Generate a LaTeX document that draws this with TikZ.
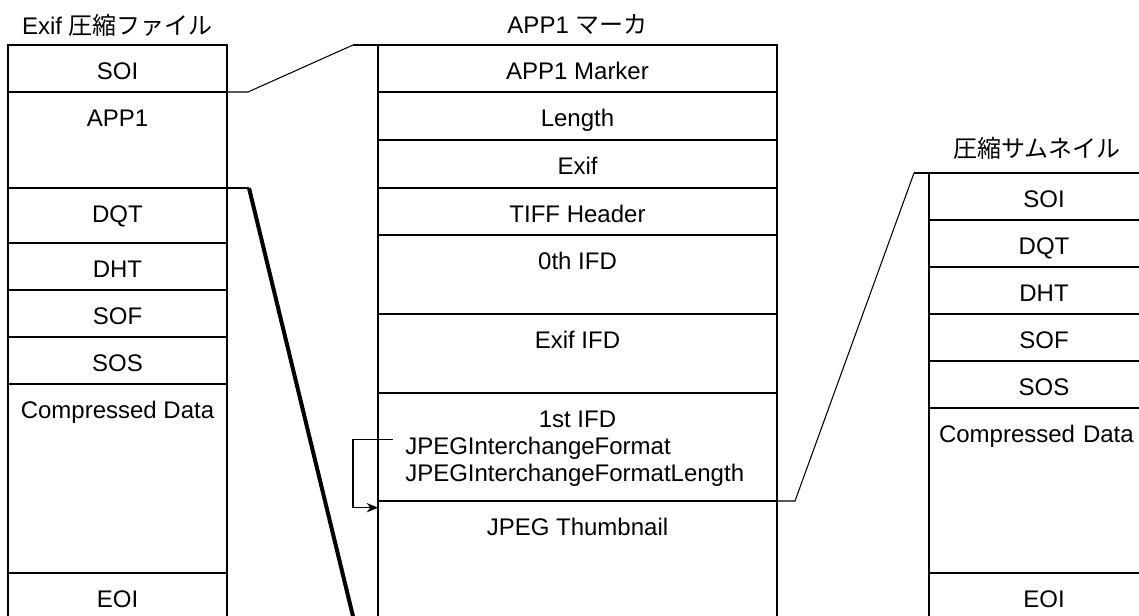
\documentclass[tikz,border=0pt]{standalone}
\usepackage{fontspec}
\setmainfont{Liberation Sans}
\newfontfamily\jpfont{Noto Sans CJK JP}
\usetikzlibrary{arrows.meta,positioning}
\tikzset{
  cell depth/.code={\pgfmathsetlengthmacro\celldp{(#1)*0.75pt-25.8pt}\pgfkeysalso{text depth/.expanded=\celldp}},
  cell/.style={draw,line width=1.1pt,inner sep=0pt,outer sep=0pt,anchor=north,text height=25.8pt,cell depth=#1},
  lcell/.style={cell=#1,minimum width=164.25pt},
  mcell/.style={cell=#1,minimum width=299.25pt},
  rcell/.style={cell=#1,minimum width=172.5pt},
  colhead/.style={anchor=base,inner sep=0pt},
  tagtext/.style={anchor=base west,inner xsep=9pt,inner ysep=0pt},
  thinlink/.style={line width=0.8pt},
  boldlink/.style={line width=3pt},
  stub/.style={line width=1.7pt},
  ptrarrow/.style={-{Stealth[length=8.5pt,width=7pt]},line width=0.8pt}
}
\begin{document}
\begin{tikzpicture}[x=0.75pt,y=-0.75pt,font=\fontsize{18pt}{21.6pt}\selectfont]
\useasboundingbox (0,0) rectangle (1139,615);
\clip (0,0) rectangle (1139,615);
% Exif file
\node[colhead] (lhead) at (117.5,34) {Exif {\jpfont 圧縮ファイル}};
\node[lcell=47] (lsoi) at (117.5,45) {SOI};
\node[lcell=96,below=0pt of lsoi] (lapp) {APP1};
\node[lcell=55,below=0pt of lapp] (ldqt) {DQT};
\node[lcell=47,below=0pt of ldqt] (ldht) {DHT};
\node[lcell=47,below=0pt of ldht] (lsof) {SOF};
\node[lcell=47,below=0pt of lsof] (lsos) {SOS};
\node[lcell=189,below=0pt of lsos] (ldata) {Compressed Data};
\node[lcell=60,below=0pt of ldata] (leoi) {EOI};
% APP1 marker
\node[colhead] (mhead) at (577.5,33) {APP1 {\jpfont マーカ}};
\node[mcell=47] (mmark) at (577.5,45) {APP1 Marker};
\node[mcell=48,below=0pt of mmark] (mlen) {Length};
\node[mcell=48,below=0pt of mlen] (mexif) {Exif};
\node[mcell=47,below=0pt of mexif] (mtiff) {TIFF Header};
\node[mcell=79,below=0pt of mtiff] (mifd0) {0th IFD};
\node[mcell=79,below=0pt of mifd0] (mexifd) {Exif IFD};
\node[mcell=108,below=0pt of mexifd] (mifd1) {1st IFD};
\node[mcell=140,below=0pt of mifd1] (mthumb) {JPEG Thumbnail};
\node[tagtext] (jif) at (393,454) {JPEGInterchangeFormat};
\node[tagtext] (jifl) at (393,481) {JPEGInterchangeFormatLength};
% thumbnail
\node[colhead] (rhead) at (1037,157) {{\jpfont 圧縮サムネイル}};
\node[rcell=47] (rsoi) at (1044,173) {SOI};
\node[rcell=47,below=0pt of rsoi] (rdqt) {DQT};
\node[rcell=47,below=0pt of rdqt] (rdht) {DHT};
\node[rcell=47,below=0pt of rdht] (rsof) {SOF};
\node[rcell=47,below=0pt of rsof] (rsos) {SOS};
\node[rcell=165,below=0pt of rsos,text width=157.5pt,align=left] (rdata) {Compressed Data};
\node[rcell=60,below=0pt of rdata] (reoi) {EOI};
% links
\draw[thinlink] (lsoi.south east) -- ++(21,0) -- ([xshift=-18.75pt]mmark.north west);
\draw[stub] ([xshift=-18.75pt]mmark.north west) -- (mmark.north west);
\draw[thinlink] (lapp.south east) -- ++(22,0) coordinate (bk);
\draw[boldlink] (bk) -- ([xshift=-14.25pt]mthumb.south west) -- (mthumb.south west);
\draw[thinlink] (mifd1.south east) -- ++(18,0) -- ([xshift=-11.25pt]rsoi.north west);
\draw[stub] ([xshift=-11.25pt]rsoi.north west) -- (rsoi.north west);
\draw[ptrarrow] ([yshift=6pt]jif.west) -- ++(-40,0) |- ([yshift=-5pt]mthumb.north west);
\end{tikzpicture}
\end{document}
